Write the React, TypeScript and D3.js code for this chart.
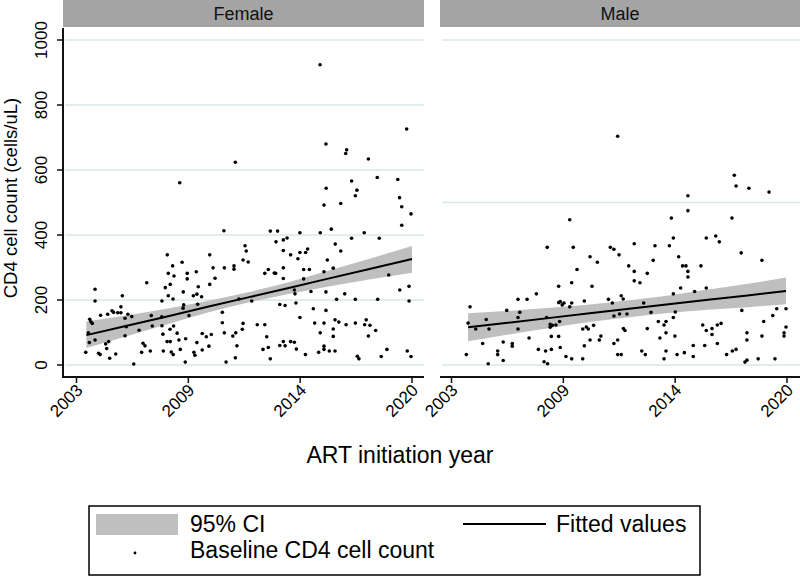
import * as d3 from 'd3'

// facet panels
const panelNames = ['Female', 'Male']

// x ticks are evenly spaced over 2003-2020, labels rounded like Stata does
const yearTicks = [2003, 2008.667, 2014.333, 2020]
const yearTickLabels = ['2003', '2009', '2014', '2020']
const cd4Ticks = [0, 200, 400, 600, 800, 1000]
const femaleGrid = [0, 200, 400, 600, 800, 1000]
const maleGrid = [0, 500, 1000]

// [ART initiation year, baseline CD4]
const femalePoints = [
    [2011.05, 624], [2008.23, 561], [2010.47, 413], [2007.6, 339], [2008.35, 316], [2009.75, 339],
    [2007.87, 305], [2003.94, 233], [2005.32, 213], [2003.94, 197], [2006.56, 253], [2007.65, 282],
    [2007.94, 274], [2007.75, 248], [2007.5, 238], [2007.65, 213], [2007.89, 203], [2007.33, 197],
    [2008.61, 282], [2008.61, 265], [2009.07, 287], [2009.17, 241], [2009.92, 299], [2010.02, 267],
    [2009.75, 248], [2008.41, 225], [2008.92, 213], [2009.1, 218], [2009.34, 210], [2008.43, 185],
    [2009.14, 187], [2010.98, 305], [2010.98, 295], [2010.49, 299], [2011.44, 323], [2011.23, 203],
    [2010.39, 162], [2010.39, 130], [2010.49, 99], [2010.92, 89], [2011.07, 99], [2011.44, 128],
    [2011.4, 110], [2011.13, 59], [2011.05, 22], [2010.58, 9],
    [2003.67, 141], [2003.73, 133], [2003.8, 128], [2003.6, 99], [2003.65, 69], [2003.94, 77],
    [2003.47, 39], [2004.12, 36], [2004.2, 32], [2004.22, 153], [2004.58, 156], [2004.8, 167],
    [2004.88, 162], [2005.09, 161], [2005.25, 179], [2005.25, 161], [2005.46, 144], [2005.6, 156],
    [2005.8, 149], [2005.52, 118], [2005.46, 90], [2004.63, 72], [2004.48, 65], [2004.53, 51],
    [2004.68, 21], [2004.99, 34], [2005.9, 3], [2006.17, 107], [2006.37, 67], [2006.47, 59],
    [2006.3, 39], [2006.74, 43], [2006.84, 120], [2007.38, 95], [2007.33, 121], [2007.74, 110],
    [2007.92, 120], [2007.59, 72], [2007.75, 72], [2007.4, 43], [2007.8, 40], [2007.9, 32],
    [2008.1, 98], [2008.19, 77], [2008.26, 48], [2008.53, 81], [2008.51, 9], [2008.7, 152],
    [2009.1, 69], [2008.95, 39], [2009.0, 30], [2009.37, 97], [2009.58, 87], [2009.83, 94],
    [2009.37, 46], [2009.71, 58], [2007.32, 148], [2006.79, 152], [2008.4, 175],
    [2016.69, 662], [2016.64, 651], [2017.79, 634], [2018.24, 577], [2019.28, 571], [2016.94, 566],
    [2017.21, 538], [2017.13, 521], [2015.65, 544], [2015.54, 492], [2016.39, 497], [2019.37, 515],
    [2019.48, 487], [2019.95, 465], [2019.48, 430], [2012.82, 412], [2013.19, 412], [2014.32, 407],
    [2015.35, 407], [2015.91, 418], [2017.58, 407], [2016.94, 390], [2018.34, 390], [2013.11, 379],
    [2013.48, 385], [2013.67, 391], [2016.11, 372], [2013.48, 352], [2016.39, 351], [2013.85, 339],
    [2014.32, 346], [2014.61, 346], [2014.71, 357], [2014.22, 327], [2015.71, 323], [2011.54, 367],
    [2011.6, 351], [2011.7, 317], [2012.72, 294], [2012.54, 282], [2013.02, 283], [2013.09, 282],
    [2013.48, 299], [2014.51, 294], [2014.8, 294], [2013.48, 266], [2014.51, 265], [2015.54, 287],
    [2016.01, 298], [2018.82, 277], [2014.04, 231], [2014.07, 219], [2014.88, 226], [2015.64, 225],
    [2016.59, 219], [2016.18, 202], [2017.13, 202], [2018.26, 202], [2019.38, 231], [2019.85, 242],
    [2019.85, 197], [2011.88, 197], [2013.3, 186], [2013.57, 183], [2014.12, 191], [2015.0, 173],
    [2015.64, 168], [2014.32, 146], [2012.16, 124], [2012.54, 124], [2012.64, 87], [2015.07, 129],
    [2015.54, 129], [2015.35, 99], [2016.1, 139], [2016.29, 132], [2016.01, 111], [2016.01, 88],
    [2016.66, 124], [2017.13, 129], [2017.68, 139], [2017.6, 124], [2017.87, 122], [2018.16, 106],
    [2017.79, 89], [2012.45, 48], [2012.72, 54], [2013.3, 60], [2013.48, 72], [2013.57, 59],
    [2013.85, 72], [2014.04, 70], [2014.14, 49], [2012.82, 19], [2014.6, 32], [2015.27, 39],
    [2015.54, 58], [2015.54, 48], [2015.81, 43], [2016.1, 43], [2017.23, 27], [2017.31, 19],
    [2018.44, 26], [2018.73, 48], [2019.76, 43], [2019.95, 26],
    [2015.34, 924], [2019.73, 726], [2015.64, 680]
]

const malePoints = [
    [2011.42, 704], [2008.99, 447], [2007.85, 362], [2009.17, 362], [2011.05, 362], [2011.23, 356],
    [2011.49, 339], [2010.02, 333], [2010.39, 316], [2009.36, 294], [2008.43, 242], [2009.09, 253],
    [2010.12, 242], [2007.3, 219], [2006.37, 202], [2006.83, 202], [2003.94, 179], [2005.8, 168],
    [2006.46, 162], [2006.37, 146], [2008.43, 192], [2008.61, 185], [2008.7, 191], [2008.99, 179],
    [2009.09, 191], [2009.73, 197], [2010.95, 202], [2011.15, 191], [2007.82, 146], [2008.11, 122],
    [2008.29, 123], [2008.48, 134], [2006.37, 111], [2004.76, 140], [2003.84, 129], [2004.23, 111],
    [2004.9, 111], [2004.58, 66], [2003.75, 32], [2004.86, 4], [2005.34, 43], [2005.34, 32],
    [2005.62, 71], [2005.62, 14], [2006.08, 66], [2006.08, 58], [2006.93, 83], [2007.4, 48],
    [2007.77, 43], [2007.69, 10], [2007.87, 4], [2008.06, 88], [2008.06, 48], [2008.43, 88],
    [2008.51, 54], [2008.8, 26], [2009.09, 19], [2009.65, 19], [2009.73, 59], [2009.65, 111],
    [2009.83, 117], [2009.93, 111], [2010.2, 122], [2010.02, 77], [2010.49, 77], [2010.57, 89],
    [2011.23, 66], [2011.42, 32], [2011.42, 77], [2011.23, 151], [2008.0, 125], [2008.0, 116],
    [2008.51, 195],
    [2017.33, 584], [2017.42, 551], [2018.07, 544], [2019.09, 532], [2014.98, 521], [2014.98, 475],
    [2017.21, 452], [2014.14, 452], [2014.24, 391], [2015.91, 391], [2016.39, 397], [2016.57, 379],
    [2012.26, 373], [2013.31, 367], [2014.04, 367], [2017.68, 345], [2013.22, 322], [2014.51, 333],
    [2018.73, 322], [2011.98, 305], [2012.26, 288], [2014.71, 305], [2014.88, 305], [2014.98, 288],
    [2014.98, 271], [2015.64, 305], [2012.92, 282], [2012.26, 259], [2012.55, 253], [2014.24, 219],
    [2014.61, 237], [2015.91, 237], [2015.32, 226], [2011.6, 213], [2011.7, 203], [2012.74, 191],
    [2013.11, 162], [2014.34, 163], [2014.24, 146], [2017.71, 168], [2019.48, 173], [2019.95, 173],
    [2019.28, 152], [2018.82, 134], [2011.52, 157], [2011.89, 157], [2013.48, 134], [2013.87, 134],
    [2013.77, 123], [2012.92, 112], [2011.71, 112], [2011.79, 106], [2013.87, 99], [2015.73, 123],
    [2015.91, 106], [2016.2, 112], [2016.2, 94], [2016.47, 123], [2016.66, 128], [2017.97, 99],
    [2017.97, 77], [2018.73, 89], [2019.95, 117], [2019.85, 89], [2019.85, 99], [2013.56, 83],
    [2014.32, 89], [2015.83, 60], [2016.47, 66], [2015.25, 60], [2012.64, 43], [2012.82, 32],
    [2011.6, 32], [2013.87, 43], [2013.77, 19], [2014.43, 32], [2014.8, 38], [2015.25, 26],
    [2016.94, 32], [2017.23, 43], [2017.42, 48], [2017.87, 9], [2017.97, 15], [2018.54, 19],
    [2019.39, 19]
]

// fitted values and 95% CI
const femaleFitYears = [2003.5, 2005.5, 2007.7, 2009.7, 2011.7, 2013.7, 2015.7, 2017.9, 2020]
const femaleFit = [92, 120, 151, 180, 208, 236, 265, 296, 326]
const femaleLower = [52, 88, 127, 162, 192, 218, 241, 264, 284]
const femaleUpper = [134, 152, 175, 198, 224, 254, 289, 328, 366]

const maleFitYears = [2003.84, 2006, 2008, 2010, 2012, 2014, 2016, 2018, 2019.95]
const maleFit = [116, 131, 145, 159, 173, 187, 201, 214, 228]
const maleLower = [73, 95, 114, 132, 147, 160, 170, 178, 187]
const maleUpper = [159, 167, 176, 186, 199, 214, 232, 250, 269]

const legendItems = ['95% CI', 'Fitted values', 'Baseline CD4 cell count']

const font = 'Liberation Sans, Arial, sans-serif'
const gridColor = '#d9e7eb'
const ciColor = '#bfbfbf'
const stripColor = '#a4a4a4'

const yScale = d3.scaleLinear().domain([0, 1000]).range([365, 40])
const axisY = 377

const panelSetup = [
    {
        name: panelNames[0], left: 63, right: 424, range: [76.5, 412], yAxis: true, grid: femaleGrid,
        points: femalePoints, fitYears: femaleFitYears, fit: femaleFit, lo: femaleLower, hi: femaleUpper
    },
    {
        name: panelNames[1], left: 440, right: 800, range: [451.5, 787], yAxis: false, grid: maleGrid,
        points: malePoints, fitYears: maleFitYears, fit: maleFit, lo: maleLower, hi: maleUpper
    }
]

const Panel = ({ p }) => {
    const xScale = d3.scaleLinear().domain([2003, 2020]).range(p.range)
    const idx = p.fitYears.map((_, i) => i)
    const band = d3.area()
        .x((i) => xScale(p.fitYears[i]))
        .y0((i) => yScale(p.lo[i]))
        .y1((i) => yScale(p.hi[i]))
        .curve(d3.curveMonotoneX)
    const fitLine = d3.line()
        .x((i) => xScale(p.fitYears[i]))
        .y((i) => yScale(p.fit[i]))
    return (
        <g>
            <rect x={p.left} y={0} width={p.right - p.left} height={27} fill={stripColor} />
            <text x={(p.left + p.right) / 2} y={20} textAnchor="middle" fontSize={18} fill="#111">
                {p.name}
            </text>
            {p.grid.map((v) => (
                <line key={v} x1={p.left + 2} x2={p.right} y1={yScale(v)} y2={yScale(v)}
                    stroke={gridColor} strokeWidth={1.5} />
            ))}
            <path d={band(idx)} fill={ciColor} />
            {p.points.map(([yr, v], i) => (
                <circle key={i} cx={xScale(yr)} cy={yScale(v)} r={1.8} fill="#000" />
            ))}
            <path d={fitLine(idx)} fill="none" stroke="#000" strokeWidth={2} />
            <line x1={p.left} x2={p.right} y1={axisY} y2={axisY} stroke="#111" strokeWidth={2} />
            {yearTicks.map((t, i) => (
                <g key={t} transform={`translate(${xScale(t)},${axisY})`}>
                    <line y1={0} y2={6} stroke="#111" strokeWidth={1.5} />
                    <text transform="translate(3,10) rotate(-45)" textAnchor="end" dy="0.35em"
                        fontSize={17} fill="#000">
                        {yearTickLabels[i]}
                    </text>
                </g>
            ))}
            {p.yAxis && (
                <g>
                    <line x1={p.left} x2={p.left} y1={28} y2={axisY + 1} stroke="#111" strokeWidth={2} />
                    {cd4Ticks.map((t) => (
                        <g key={t} transform={`translate(${p.left},${yScale(t)})`}>
                            <line x1={-6} x2={0} stroke="#111" strokeWidth={1.5} />
                            <text transform="translate(-16,0) rotate(-90)" textAnchor="middle"
                                fontSize={17} fill="#000">
                                {t}
                            </text>
                        </g>
                    ))}
                </g>
            )}
        </g>
    )
}

export default function App() {
    return (
        <svg width={800} height={577} style={{ position: 'absolute', left: 0, top: 0, background: '#fff' }}
            fontFamily={font}>
            <rect width={800} height={577} fill="#fff" />
            {panelSetup.map((p) => (
                <Panel key={p.name} p={p} />
            ))}
            <text transform="translate(17,198) rotate(-90)" textAnchor="middle" fontSize={18.5} fill="#000">
                CD4 cell count (cells/uL)
            </text>
            <text x={400} y={463} textAnchor="middle" fontSize={23} fill="#000">
                ART initiation year
            </text>
            <g>
                <rect x={89} y={506} width={611} height={69} fill="#fff" stroke="#000" strokeWidth={1.5} />
                <rect x={96} y={514} width={82} height={21} fill={ciColor} />
                <text x={190} y={532} fontSize={23} fill="#000">{legendItems[0]}</text>
                <line x1={463} x2={546} y1={524} y2={524} stroke="#000" strokeWidth={2} />
                <text x={556} y={532} fontSize={23} fill="#000">{legendItems[1]}</text>
                <circle cx={135} cy={553} r={1.4} fill="#000" />
                <text x={190} y={558} fontSize={23} fill="#000">{legendItems[2]}</text>
            </g>
        </svg>
    )
}
